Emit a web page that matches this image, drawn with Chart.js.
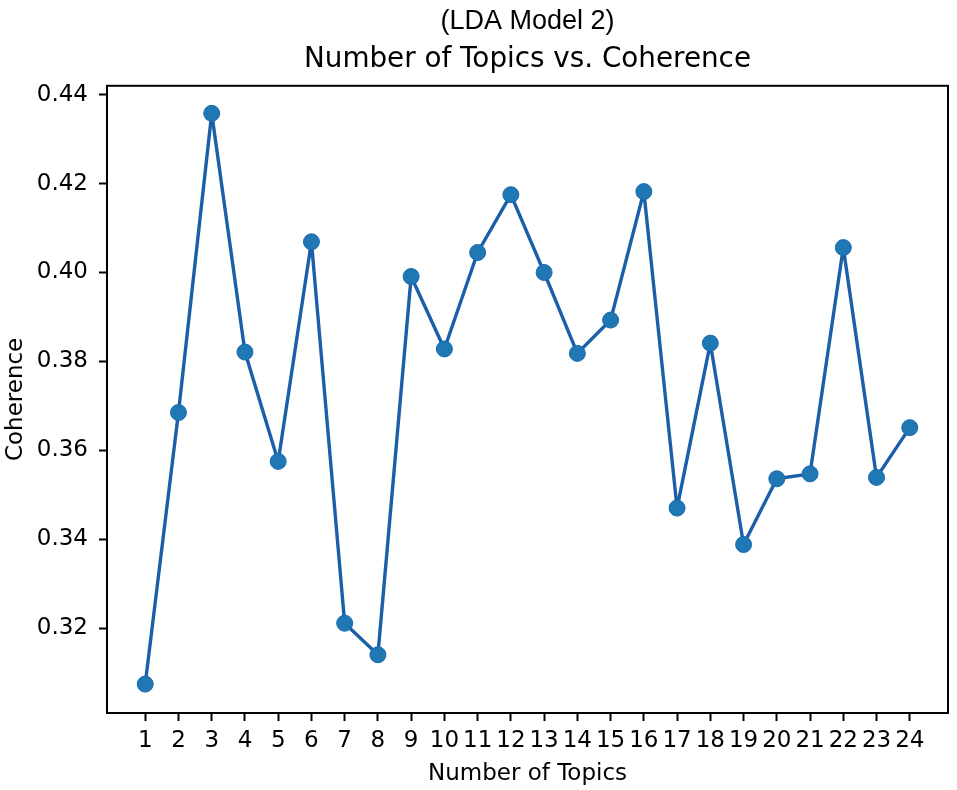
<!DOCTYPE html>
<html>
<head>
<meta charset="utf-8">
<script src="https://cdn.jsdelivr.net/npm/chart.js@4.4.1/dist/chart.umd.min.js"></script>
<style>
  html, body { margin: 0; padding: 0; background: #fff; }
  #wrap { width: 957px; height: 790px; }
</style>
</head>
<body>
<div id="wrap"><canvas id="topicsChart" width="957" height="790"></canvas></div>
<script>
// ===== DATA =====
const topics = [1, 2, 3, 4, 5, 6, 7, 8, 9, 10, 11, 12, 13, 14, 15, 16, 17, 18, 19, 20, 21, 22, 23, 24];
const coherence = [0.3074, 0.3685, 0.4358, 0.3821, 0.3575, 0.4069, 0.3211, 0.3140,
                   0.3991, 0.3828, 0.4045, 0.4175, 0.4000, 0.3818, 0.3893, 0.4182,
                   0.3470, 0.3841, 0.3388, 0.3536, 0.3547, 0.4056, 0.3539, 0.3651];
const yTicks = [0.32, 0.34, 0.36, 0.38, 0.40, 0.42, 0.44];

// full box around the plot, like matplotlib spines
const frame = {
  id: 'frame',
  afterDraw(chart) {
    const { ctx, chartArea: a } = chart;
    ctx.save();
    ctx.strokeStyle = '#000';
    ctx.lineWidth = 2;
    ctx.strokeRect(a.left, a.top, a.right - a.left, a.bottom - a.top);
    ctx.restore();
  }
};

const tickFont = { family: 'DejaVu Sans', size: 23 };

new Chart(document.getElementById('topicsChart'), {
  type: 'line',
  data: {
    datasets: [{
      label: 'Coherence',
      data: topics.map((t, i) => ({ x: t, y: coherence[i] })),
      borderColor: '#1a5fa8',
      borderWidth: 3.4,
      borderJoinStyle: 'round',
      borderCapStyle: 'round',
      tension: 0,
      fill: false,
      pointBackgroundColor: '#1f77b4',
      pointBorderColor: '#1b6aae',
      pointBorderWidth: 1,
      pointRadius: 8,
      pointHoverRadius: 8,
      clip: false
    }]
  },
  options: {
    responsive: false,
    animation: false,
    devicePixelRatio: 1,
    layout: { padding: 0 },
    plugins: {
      legend: { display: false },
      tooltip: { enabled: false },
      title: {
        display: true,
        fullSize: false,
        text: '(LDA Model 2)',
        color: '#000',
        font: { family: 'Liberation Sans', size: 27, weight: 'normal', lineHeight: 1 },
        padding: { top: 8, bottom: 9 }
      },
      subtitle: {
        display: true,
        fullSize: false,
        text: 'Number of Topics vs. Coherence',
        color: '#000',
        font: { family: 'DejaVu Sans', size: 27.8, weight: 'normal', lineHeight: 1 },
        padding: { top: 2, bottom: 12 }
      }
    },
    scales: {
      x: {
        type: 'linear',
        min: -0.15,
        max: 25.15,
        afterBuildTicks: s => { s.ticks = topics.map(v => ({ value: v })); },
        afterFit: s => { s.height = 77; },
        border: { display: true, color: '#000', width: 2 },
        grid: { drawOnChartArea: false, drawTicks: true, tickLength: 8, tickColor: '#000', tickWidth: 2 },
        ticks: { font: tickFont, color: '#000', padding: 6, autoSkip: false, maxRotation: 0, callback: v => String(v) },
        title: {
          display: true,
          text: 'Number of Topics',
          color: '#000',
          font: { family: 'DejaVu Sans', size: 23, lineHeight: 1 },
          padding: { top: 0, bottom: 4 }
        }
      },
      y: {
        min: 0.3009,
        max: 0.4420,
        afterBuildTicks: s => { s.ticks = yTicks.map(v => ({ value: v })); },
        afterFit: s => { s.width = 107; },
        border: { display: true, color: '#000', width: 2 },
        grid: { drawOnChartArea: false, drawTicks: true, tickLength: 8, tickColor: '#000', tickWidth: 2 },
        ticks: { font: tickFont, color: '#000', padding: 11, callback: v => v.toFixed(2) },
        title: {
          display: true,
          text: 'Coherence',
          color: '#000',
          font: { family: 'DejaVu Sans', size: 23, lineHeight: 1 },
          padding: { top: 5, bottom: 0 }
        }
      }
    }
  },
  plugins: [frame]
});
</script>
</body>
</html>
